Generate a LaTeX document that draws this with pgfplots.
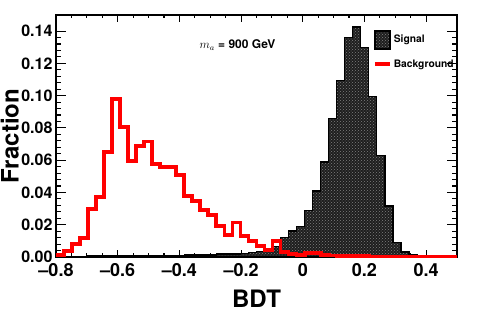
\documentclass[border=0pt]{standalone}
\usepackage{fontspec}
\setmainfont{TeX Gyre Heros}
\usepackage{pgfplots}
\usepackage{pgfplotstable}
\usetikzlibrary{patterns}
\pgfplotsset{compat=1.18}
\pgfplotsset{
  sigleg/.style={legend image code/.code={\draw[##1] (0pt,-9pt) rectangle (15pt,9pt);}},
  bkgleg/.style={legend image code/.code={\draw[##1] (0pt,0pt) -- (15pt,0pt);}},
}

% bin left edges (50 bins of 0.026 from -0.8 to 0.5), last row closes the last bin
\pgfplotstableread{
x       sig     bkg
-0.800  0.0003  0.0010
-0.774  0.0003  0.0037
-0.748  0.0003  0.0083
-0.722  0.0003  0.0118
-0.696  0.0005  0.0297
-0.670  0.0005  0.0373
-0.644  0.0005  0.0653
-0.618  0.0005  0.0980
-0.592  0.0008  0.0805
-0.566  0.0008  0.0596
-0.540  0.0008  0.0690
-0.514  0.0008  0.0716
-0.488  0.0010  0.0577
-0.462  0.0010  0.0556
-0.436  0.0010  0.0556
-0.410  0.0010  0.0508
-0.384  0.0013  0.0380
-0.358  0.0013  0.0349
-0.332  0.0013  0.0290
-0.306  0.0013  0.0260
-0.280  0.0018  0.0193
-0.254  0.0018  0.0135
-0.228  0.0018  0.0214
-0.202  0.0022  0.0130
-0.176  0.0028  0.0098
-0.150  0.0035  0.0068
-0.124  0.0045  0.0042
-0.098  0.0065  0.0098
-0.072  0.0120  0.0031
-0.046  0.0160  0.0018
-0.020  0.0190  0.0012
 0.006  0.0290  0.0025
 0.032  0.0410  0.0025
 0.058  0.0590  0.0012
 0.084  0.0860  0.0009
 0.110  0.1095  0.0007
 0.136  0.1360  0.0005
 0.162  0.1425  0.0005
 0.188  0.1300  0.0005
 0.214  0.0995  0.0003
 0.240  0.0630  0.0003
 0.266  0.0315  0.0003
 0.292  0.0090  0.0003
 0.318  0.0030  0.0003
 0.344  0.0017  0.0003
 0.370  0.0010  0.0003
 0.396  0.0004  0.0003
 0.422  0.0004  0.0003
 0.448  0.0004  0.0003
 0.474  0.0004  0.0003
 0.500  0.0004  0.0003
}\bdt

\begin{document}
\begin{tikzpicture}
\useasboundingbox (0,0) rectangle (477pt,327pt);
\begin{axis}[
  at={(56pt,70pt)}, anchor=south west,
  scale only axis, width=401pt, height=242pt,
  xmin=-0.8, xmax=0.5, ymin=0, ymax=0.15,
  clip=false,
  axis line style={line width=1.5pt},
  tick align=inside,
  xtick pos=both, ytick pos=both,
  xticklabel pos=lower, yticklabel pos=left,
  xtick={-0.8,-0.6,-0.4,-0.2,0,0.2,0.4},
  xticklabels={–0.8,–0.6,–0.4,–0.2,0,0.2,0.4},
  ytick={0,0.02,0.04,0.06,0.08,0.10,0.12,0.14},
  yticklabels={0.00,0.02,0.04,0.06,0.08,0.10,0.12,0.14},
  minor x tick num=3, minor y tick num=4,
  xtick style={/pgfplots/major tick length=7pt,/pgfplots/minor tick length=3.5pt,line width=1.1pt,black},
  ytick style={/pgfplots/major tick length=10pt,/pgfplots/minor tick length=5pt,line width=1.1pt,black},
  xticklabel style={font=\bfseries\fontsize{18}{18}\selectfont, yshift=-3pt},
  yticklabel style={font=\bfseries\fontsize{16}{16}\selectfont},
  xlabel={BDT},
  xlabel style={at={(axis description cs:0.5,-0.136)}, anchor=north, inner sep=0pt,
    font=\bfseries\fontsize{24}{24}\selectfont},
  ylabel={Fraction},
  ylabel style={at={(axis description cs:-0.092,0.5)}, anchor=south, inner sep=0pt,
    font=\bfseries\fontsize{24}{24}\selectfont},
  legend style={at={(axis description cs:0.79,0.938)}, anchor=north west,
    draw=none, fill=none, inner sep=0pt, row sep=8pt,
    font=\bfseries\fontsize{10.3}{12}\selectfont},
  legend cell align=left,
]
\addplot[const plot, draw=black, line width=1.4pt,
  fill={rgb,255:red,30;green,30;blue,30},
  postaction={pattern=crosshatch dots, pattern color=black!50},
  sigleg]
  table[x=x, y=sig] {\bdt} \closedcycle;
\addlegendentry{Signal}
\addplot[const plot, draw=red, line width=3.8pt, bkgleg]
  table[x=x, y=bkg] {\bdt};
\addlegendentry{Background}
\node[font=\bfseries\fontsize{10.5}{12}\selectfont] at (axis description cs:0.4526,0.876) {\fontsize{12}{12}\selectfont$m_{a}$ = 900 GeV};
\end{axis}
\end{tikzpicture}
\end{document}
